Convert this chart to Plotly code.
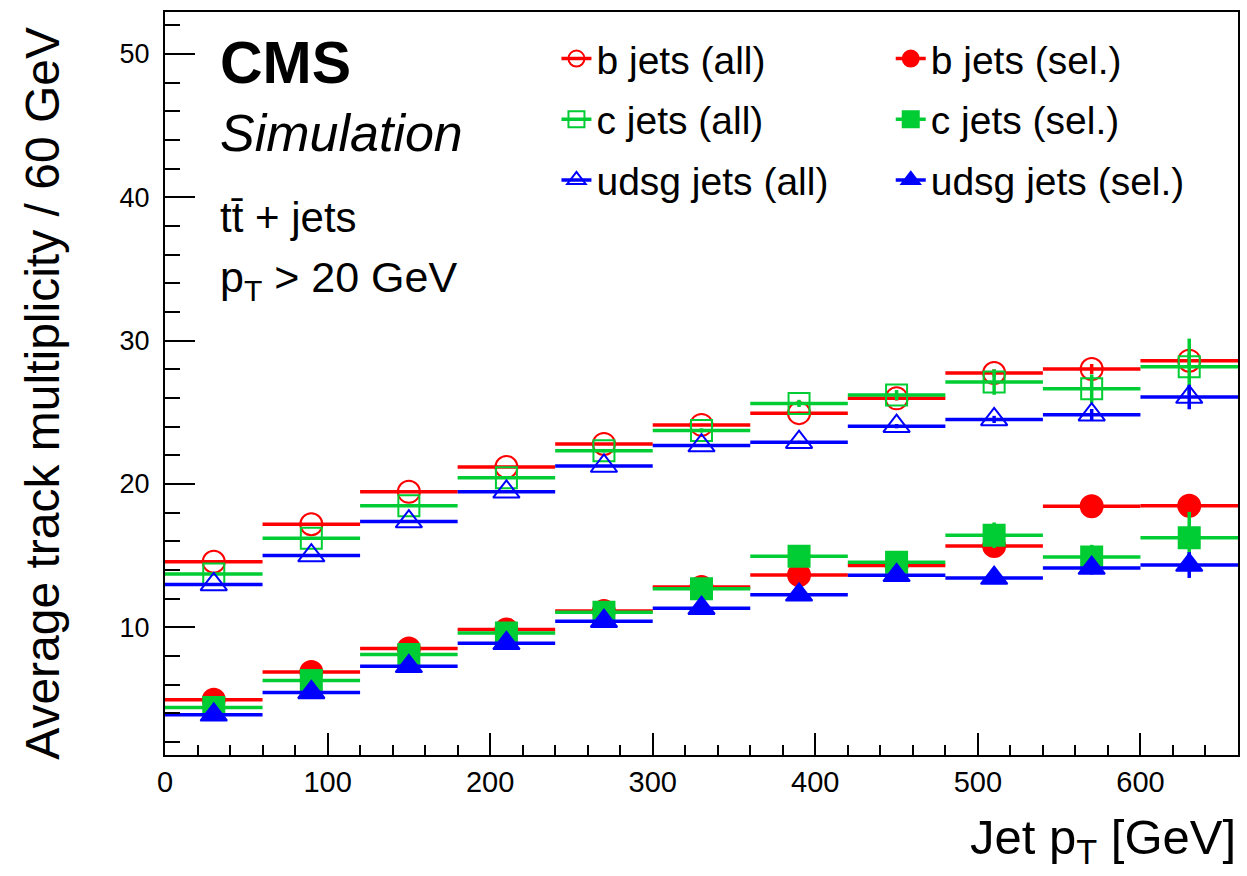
import plotly.graph_objects as go

# ---- data ----
bin_centers = [30, 90, 150, 210, 270, 330, 390, 450, 510, 570, 630]
bin_halfwidth = [30] * 11

b_all = [14.57, 17.19, 19.45, 21.18, 22.79, 24.12, 24.94, 25.97, 27.74, 28.02, 28.60]
c_all = [13.71, 16.21, 18.47, 20.43, 22.32, 23.73, 25.62, 26.20, 27.11, 26.64, 28.18]
u_all = [12.99, 15.00, 17.37, 19.45, 21.25, 22.68, 22.91, 24.03, 24.50, 24.83, 26.06]
b_sel = [4.94, 6.87, 8.51, 9.84, 11.14, 12.80, 13.64, 14.30, 15.67, 18.45, 18.47]
c_sel = [4.40, 6.29, 8.09, 9.60, 11.05, 12.68, 14.95, 14.53, 16.42, 14.90, 16.25]
u_sel = [3.89, 5.45, 7.27, 8.88, 10.42, 11.33, 12.26, 13.62, 13.43, 14.13, 14.34]

b_all_err = [0.02, 0.02, 0.03, 0.04, 0.05, 0.07, 0.10, 0.15, 0.25, 0.35, 0.50]
c_all_err = [0.05, 0.05, 0.07, 0.10, 0.12, 0.15, 0.25, 0.35, 0.89, 1.00, 1.96]
u_all_err = [0.02, 0.02, 0.03, 0.04, 0.05, 0.07, 0.10, 0.15, 0.25, 0.40, 0.85]
b_sel_err = [0.02, 0.03, 0.04, 0.05, 0.07, 0.10, 0.15, 0.20, 0.30, 0.50, 0.77]
c_sel_err = [0.05, 0.06, 0.08, 0.10, 0.15, 0.20, 0.30, 0.40, 0.89, 0.85, 1.80]
u_sel_err = [0.02, 0.03, 0.04, 0.05, 0.07, 0.10, 0.15, 0.20, 0.30, 0.45, 0.90]

RED = "#ff0000"
GREEN = "#00cc33"
BLUE = "#0000ff"
FONT = "Liberation Sans, Arial, Helvetica, sans-serif"

series = [
    ("b jets (all)", b_all, b_all_err, RED, "circle-open", 22, "legend"),
    ("c jets (all)", c_all, c_all_err, GREEN, "square-open", 21, "legend"),
    ("udsg jets (all)", u_all, u_all_err, BLUE, "triangle-up-open", 23, "legend"),
    ("b jets (sel.)", b_sel, b_sel_err, RED, "circle", 22, "legend2"),
    ("c jets (sel.)", c_sel, c_sel_err, GREEN, "square", 21, "legend2"),
    ("udsg jets (sel.)", u_sel, u_sel_err, BLUE, "triangle-up", 23, "legend2"),
]

fig = go.Figure()
for name, vals, errs, col, sym, size, leg in series:
    fig.add_trace(go.Scatter(
        x=bin_centers, y=vals, mode="markers", showlegend=False,
        marker=dict(symbol=sym, size=size, color=col, line=dict(color=col, width=2)),
        error_x=dict(type="data", array=bin_halfwidth, color=col, thickness=3.5, width=0),
        error_y=dict(type="data", array=errs, color=col, thickness=3.5, width=0),
        hoverinfo="skip",
    ))

# legend-only entries (line + marker like the original legend)
for name, vals, errs, col, sym, size, leg in series:
    fig.add_trace(go.Scatter(
        x=[None], y=[None], mode="lines+markers", name=name, legend=leg,
        legendgroup=name,
        line=dict(color=col, width=3.5),
        marker=dict(symbol=sym, size=size, color=col, line=dict(color=col, width=2)),
    ))

L, R, T, B = 164.7, 1240.0, 12.3, 755.0
W, H = 1247, 876


def px(x):
    return (x - L) / (R - L)


def py(y):
    return (B - y) / (B - T)


legend_common = dict(
    font=dict(family=FONT, size=39, color="black"),
    bgcolor="rgba(0,0,0,0)", borderwidth=0,
    xanchor="left", yanchor="top", tracegroupgap=7,
    itemwidth=30,
)
fig.update_layout(
    width=W, height=H,
    margin=dict(l=L, r=W - R, t=T, b=H - B, pad=0),
    paper_bgcolor="white", plot_bgcolor="white",
    font=dict(family=FONT, color="black"),
    legend=dict(x=px(557), y=py(27), **legend_common),
    legend2=dict(x=px(892), y=py(27), **legend_common),
    xaxis=dict(
        range=[0, 660], showgrid=False, zeroline=False,
        showline=True, linecolor="black", linewidth=2, mirror=True,
        ticks="inside", ticklen=22, tickwidth=2, tickcolor="black",
        dtick=100, tick0=0,
        tickfont=dict(family=FONT, size=29, color="black"),
        minor=dict(dtick=20, ticks="inside", ticklen=10, tickwidth=2, tickcolor="black", showgrid=False),
    ),
    yaxis=dict(
        range=[1.085, 52.93], showgrid=False, zeroline=False,
        showline=True, linecolor="black", linewidth=2, mirror=True,
        ticks="inside", ticklen=30, tickwidth=2, tickcolor="black",
        tickvals=[10, 20, 30, 40, 50],
        tickfont=dict(family=FONT, size=27, color="black"),
        ticklabelstandoff=8,
        minor=dict(dtick=2, tick0=0, ticks="inside", ticklen=15, tickwidth=2, tickcolor="black", showgrid=False),
    ),
)

ann = [
    dict(text="<b>CMS</b>", x=px(218), y=py(63), size=59),
    dict(text="<i>Simulation</i>", x=px(218), y=py(133), size=52),
    dict(text="tt\u0304 + jets", x=px(218), y=py(218), size=42),
    dict(text="p<sub>T</sub> > 20 GeV", x=px(218), y=py(280), size=43),
]
for a in ann:
    fig.add_annotation(text=a["text"], x=a["x"], y=a["y"], xref="paper", yref="paper",
                       xanchor="left", yanchor="middle", showarrow=False,
                       font=dict(family=FONT, size=a["size"], color="black"))

fig.add_annotation(text="Jet p<sub>T</sub> [GeV]", x=1.0, y=py(840), xref="paper", yref="paper",
                   xanchor="right", yanchor="middle", showarrow=False,
                   font=dict(family=FONT, size=49, color="black"))
fig.add_annotation(text="Average track multiplicity / 60 GeV", x=px(42), y=py(25),
                   xref="paper", yref="paper", xanchor="center", yanchor="top",
                   textangle=-90, showarrow=False,
                   font=dict(family=FONT, size=48, color="black"))

fig.write_html("out.html")
